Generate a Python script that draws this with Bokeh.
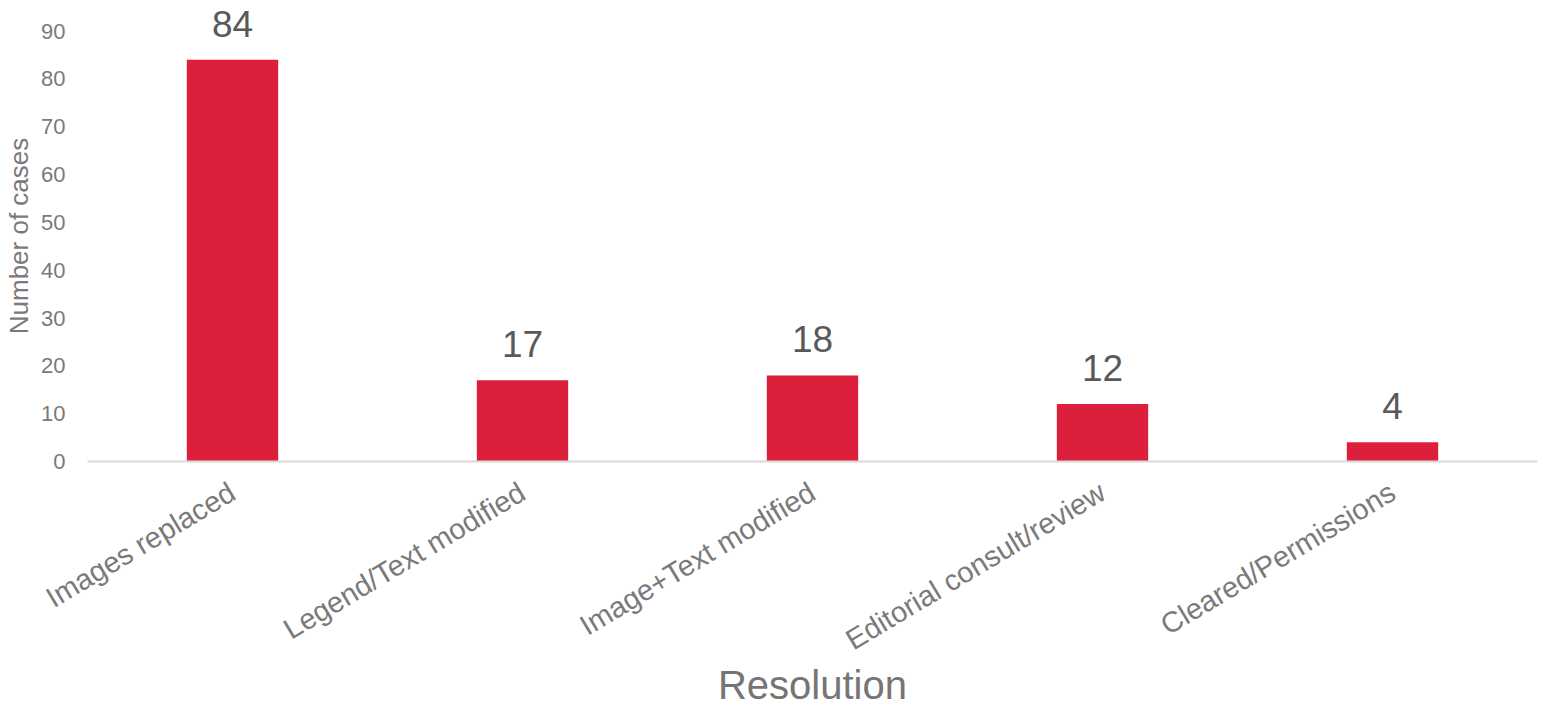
from bokeh.plotting import figure
from bokeh.models import ColumnDataSource, LabelSet, FixedTicker, Range1d
from bokeh.core.properties import value
from bokeh.embed import file_html
from bokeh.resources import INLINE
import math

categories = ["Images replaced", "Legend/Text modified", "Image+Text modified",
              "Editorial consult/review", "Cleared/Permissions"]
counts = [84, 17, 18, 12, 4]
y_ticks = [0, 10, 20, 30, 40, 50, 60, 70, 80, 90]

src = ColumnDataSource(dict(cat=categories, n=counts, lab=[str(v) for v in counts]))

p = figure(x_range=categories, y_range=Range1d(0, 94.3),
           frame_width=1450, frame_height=451,
           output_backend="svg", toolbar_location=None,
           min_border_left=87, min_border_right=4, min_border_top=10, min_border_bottom=2)

p.vbar(x="cat", top="n", width=0.315, source=src, color="#DC1F3A", line_color=None)

labels = LabelSet(x="cat", y="n", text="lab", source=src, text_align="center",
                  text_baseline="bottom", y_offset=23, text_font_size="37px",
                  text_color="#595959", text_font=value("Liberation Sans"))
p.add_layout(labels)

p.outline_line_color = None
p.xgrid.grid_line_color = None
p.ygrid.grid_line_color = None

p.yaxis.ticker = FixedTicker(ticks=y_ticks)
p.yaxis.axis_line_color = None
p.yaxis.major_tick_line_color = None
p.yaxis.minor_tick_line_color = None
p.yaxis.major_tick_out = 0
p.yaxis.major_tick_in = 0
p.yaxis.minor_tick_out = 0
p.yaxis.major_label_text_font = "Liberation Sans"
p.yaxis.major_label_text_font_size = "22px"
p.yaxis.major_label_text_color = "#7a7a7a"
p.yaxis.major_label_standoff = 22
p.yaxis.axis_label = "Number of cases"
p.yaxis.axis_label_text_font = "Liberation Sans"
p.yaxis.axis_label_text_font_style = "normal"
p.yaxis.axis_label_text_font_size = "26px"
p.yaxis.axis_label_text_color = "#7a7a7a"
p.yaxis.axis_label_standoff = 4

p.xaxis.axis_line_color = "#d9d9d9"
p.xaxis.axis_line_width = 2
p.xaxis.major_tick_line_color = None
p.xaxis.minor_tick_line_color = None
p.xaxis.major_tick_out = 0
p.xaxis.major_tick_in = 0
p.xaxis.minor_tick_out = 0
p.xaxis.major_label_orientation = math.radians(31)
p.xaxis.major_label_text_font = "Liberation Sans"
p.xaxis.major_label_text_font_size = "29px"
p.xaxis.major_label_text_color = "#7a7a7a"
p.xaxis.major_label_standoff = 28
p.xaxis.axis_label = "Resolution"
p.xaxis.axis_label_text_font = "Liberation Sans"
p.xaxis.axis_label_text_font_style = "normal"
p.xaxis.axis_label_text_font_size = "40px"
p.xaxis.axis_label_text_color = "#757575"
p.xaxis.axis_label_standoff = -10

open("out.html", "w").write(file_html(p, INLINE))
